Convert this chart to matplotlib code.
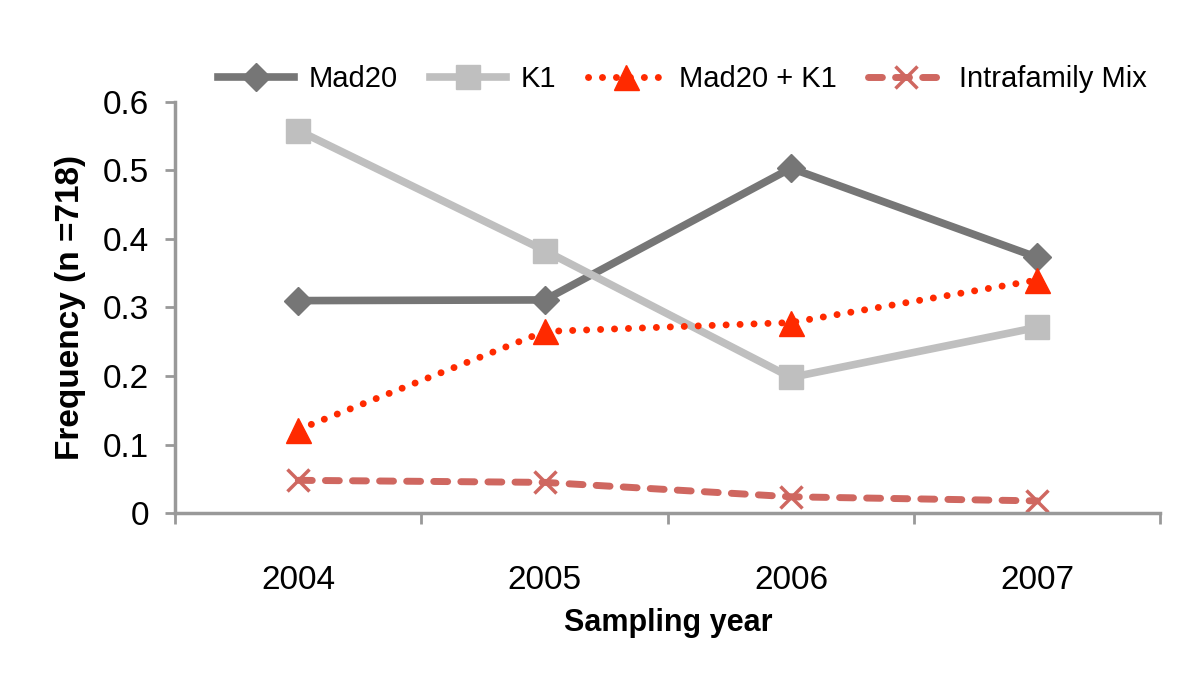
import numpy as np
import matplotlib.pyplot as plt

plt.rcParams["font.family"] = ["Liberation Sans", "DejaVu Sans"]

years = ["2004", "2005", "2006", "2007"]
mad20 = [0.310, 0.311, 0.503, 0.373]
k1 = [0.558, 0.383, 0.198, 0.271]
mad20_k1 = [0.122, 0.265, 0.278, 0.340]
intra_mix = [0.048, 0.045, 0.024, 0.018]

fig = plt.figure(figsize=(12, 6.78), dpi=100)
ax = fig.add_axes([0.146, 0.243, 0.821, 0.607])

x = np.arange(len(years))

ax.plot(x, mad20, color="#767676", lw=5.5, marker="D", ms=14, label="Mad20")
ax.plot(x, k1, color="#bfbfbf", lw=5.5, marker="s", ms=17, label="K1")
ax.plot(x, mad20_k1, color="#ff2a00", lw=5, ls=(0, (0.01, 2)),
        dash_capstyle="round", marker="^", ms=18, label="Mad20 + K1")
ax.plot(x, intra_mix, color="#cf6760", lw=5, ls=(0, (2.0, 1.9)),
        dash_capstyle="round", marker="x", ms=16, mew=2.5, label="Intrafamily Mix")

ax.set_xlim(-0.5, len(years) - 0.5)
ax.set_ylim(0, 0.6)
ax.set_yticks(np.arange(0, 0.61, 0.1))
ax.set_yticklabels(["0", "0.1", "0.2", "0.3", "0.4", "0.5", "0.6"])
ax.set_xticks(x)
ax.set_xticklabels(years)
ax.set_xticks(np.arange(-0.5, len(years)), minor=True)

for s in ["top", "right"]:
    ax.spines[s].set_visible(False)
for s in ["left", "bottom"]:
    ax.spines[s].set_color("#999999")
    ax.spines[s].set_linewidth(2.5)

ax.tick_params(axis="y", labelsize=24, length=7, width=2, color="#999999", pad=12)
ax.tick_params(axis="x", which="major", labelsize=24, length=0, pad=37)
ax.tick_params(axis="x", which="minor", length=8, width=2, color="#999999", direction="out")

ax.set_xlabel("Sampling year", fontsize=22, fontweight="bold", labelpad=9)
ax.set_ylabel("Frequency (n =718)", fontsize=24, fontweight="bold", labelpad=12)

ax.legend(loc="center", bbox_to_anchor=(0.515, 1.054), ncol=4, frameon=False,
          fontsize=21, handlelength=2.6, columnspacing=1.1, handletextpad=0.5)

fig.savefig("out.png", dpi=100)
